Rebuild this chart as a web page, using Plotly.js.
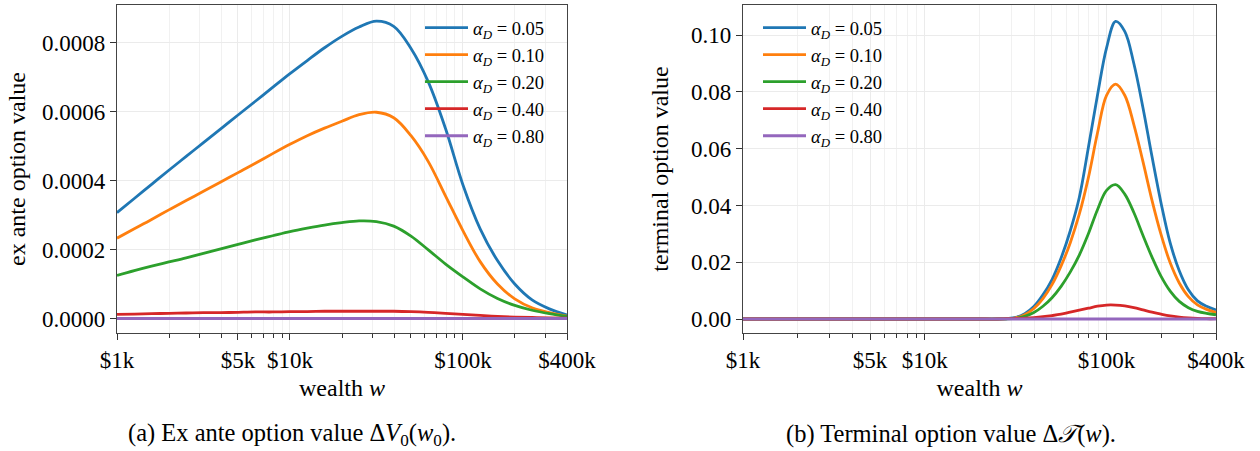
<!DOCTYPE html>
<html>
<head>
<meta charset="utf-8">
<script src="https://cdn.plot.ly/plotly-3.0.1.min.js"></script>
<style>html,body{margin:0;padding:0;background:#fff;}#chart{width:1260px;height:451px;}</style>
</head>
<body>
<div id="chart"></div>
<script>
// ---------- data ----------
const alphaLabels = ['0.05', '0.10', '0.20', '0.40', '0.80'];
const colors = ['#1f77b4', '#ff7f0e', '#2ca02c', '#d62728', '#9467bd'];

// (a) ex ante option value, wealth in dollars
const wealthLeft = [1000, 1259, 1585, 1995, 2512, 3162, 3981, 5012, 6310, 7943, 10000, 12589, 15849, 19953,
  25119, 31623, 39811, 50119, 63096, 79433, 100000, 125893, 158489, 199526, 251189, 316228, 400000];
const exAnte005 = [0.000307, 0.000348, 0.000389, 0.000430, 0.000470, 0.000510, 0.000550, 0.000590, 0.000630, 0.000670, 0.000710, 0.000748, 0.000785, 0.000818,
  0.000845, 0.000862, 0.000847, 0.000783, 0.000686, 0.000550, 0.000388, 0.000260, 0.000168, 0.000100, 0.000054, 0.000028, 0.000010];
const exAnte010 = [0.000233, 0.000260, 0.000287, 0.000315, 0.000342, 0.000369, 0.000396, 0.000423, 0.000450, 0.000478, 0.000505, 0.000530, 0.000552, 0.000572,
  0.000591, 0.000598, 0.000582, 0.000530, 0.000455, 0.000355, 0.000255, 0.000165, 0.000100, 0.000057, 0.000031, 0.000017, 0.000007];
const exAnte020 = [0.000125, 0.000139, 0.000152, 0.000164, 0.000176, 0.000189, 0.000202, 0.000215, 0.000228, 0.000240, 0.000252, 0.000262, 0.000271, 0.000278,
  0.000283, 0.000281, 0.000268, 0.000239, 0.000199, 0.000158, 0.000121, 0.000086, 0.000058, 0.000038, 0.000024, 0.000014, 0.000006];
const exAnte040 = [0.000012, 0.000013, 0.000014, 0.000015, 0.000016, 0.000017, 0.000017, 0.000018, 0.000019, 0.000019, 0.000020, 0.000020, 0.000021, 0.000021,
  0.000021, 0.000021, 0.000021, 0.000020, 0.000018, 0.000015, 0.000012, 0.000009, 0.000006, 0.000004, 0.000003, 0.000002, 0.000001];
const exAnte080 = [0, 0, 0, 0, 0, 0, 0, 0, 0, 0, 0, 0, 0, 0, 0, 0, 0, 0, 0, 0, 0, 0, 0, 0, 0, 0, 0];

// (b) terminal option value
const wealthRight = [1000, 3162, 10000, 19953, 25119, 28184, 31623, 35481, 39811, 44668, 50119, 56234, 63096, 70795, 79433,
  89125, 100000, 112202, 125893, 141254, 158489, 177828, 199526, 223872, 251189, 281838, 316228, 354813, 400000];
const term005 = [0, 0, 0, 0, 0, 0.0002, 0.0006, 0.0019, 0.0044, 0.0085, 0.0139, 0.0215, 0.0310, 0.0428, 0.0604,
  0.0788, 0.0955, 0.1048, 0.1013, 0.0900, 0.0745, 0.0572, 0.0408, 0.0268, 0.0170, 0.0103, 0.0064, 0.0045, 0.0032];
const term010 = [0, 0, 0, 0, 0, 0.0001, 0.0004, 0.0015, 0.0037, 0.0072, 0.0121, 0.0187, 0.0268, 0.0369, 0.0498,
  0.0655, 0.0788, 0.0827, 0.0788, 0.0685, 0.0555, 0.0418, 0.0297, 0.0198, 0.0127, 0.0079, 0.0050, 0.0034, 0.0023];
const term020 = [0, 0, 0, 0, 0, 0, 0.0002, 0.0009, 0.0023, 0.0045, 0.0075, 0.0115, 0.0165, 0.0225, 0.0300,
  0.0385, 0.0453, 0.0473, 0.0440, 0.0375, 0.0295, 0.0218, 0.0150, 0.0098, 0.0062, 0.0040, 0.0027, 0.0020, 0.0015];
const term040 = [0, 0, 0, 0, 0, 0.0001, 0.0002, 0.0003, 0.0005, 0.0008, 0.0012, 0.0017, 0.0024, 0.0031, 0.0038,
  0.0045, 0.0049, 0.0049, 0.0046, 0.0040, 0.0032, 0.0024, 0.0017, 0.0011, 0.0007, 0.0004, 0.0002, 0.0001, 0.0001];
const term080 = [0, 0, 0, 0, 0, 0, 0, 0, 0, 0, 0, 0, 0, 0, 0, 0, 0, 0, 0, 0, 0, 0, 0, 0, 0, 0, 0, 0, 0];

const xTickVals = [1000, 5000, 10000, 100000, 400000];
const xTickText = ['$1k', '$5k', '$10k', '$100k', '$400k'];
const xMinorVals = [2000, 3000, 4000, 6000, 7000, 8000, 9000, 20000, 30000, 40000, 50000, 60000, 70000, 80000, 90000, 200000, 300000];

// ---------- traces ----------
const leftSeries = [exAnte005, exAnte010, exAnte020, exAnte040, exAnte080];
const rightSeries = [term005, term010, term020, term040, term080];
const FONT = 'Liberation Serif';
const traces = [];
leftSeries.forEach((ys, i) => {
  traces.push({
    x: wealthLeft, y: ys, type: 'scatter', mode: 'lines',
    line: {color: colors[i], width: 2.8, shape: 'spline', smoothing: 1},
    name: '<i>α</i><sub><i>D</i></sub> = ' + alphaLabels[i],
    xaxis: 'x', yaxis: 'y', legend: 'legend'
  });
});
rightSeries.forEach((ys, i) => {
  traces.push({
    x: wealthRight, y: ys, type: 'scatter', mode: 'lines',
    line: {color: colors[i], width: 2.8, shape: 'spline', smoothing: 1},
    name: '<i>α</i><sub><i>D</i></sub> = ' + alphaLabels[i],
    xaxis: 'x2', yaxis: 'y2', legend: 'legend2'
  });
});

const gridC = '#ebebeb';
function xAxis(domain, anchor) {
  return {
    type: 'log', domain: domain, anchor: anchor,
    range: [3, Math.log10(400000)],
    tickmode: 'array', tickvals: xTickVals, ticktext: xTickText,
    ticks: 'outside', ticklen: 6, tickwidth: 1, tickcolor: '#333',
    showline: true, mirror: true, linecolor: '#444', linewidth: 1.2,
    showgrid: true, gridcolor: gridC, gridwidth: 1,
    minor: {tickvals: xMinorVals, ticks: 'outside', ticklen: 3.5, tickwidth: 1, tickcolor: '#333', showgrid: true, gridcolor: '#f1f1f1', gridwidth: 1},
    tickfont: {family: FONT, size: 23, color: '#000'},
    title: {text: 'wealth <i>w</i>', font: {family: FONT, size: 24, color: '#000'}, standoff: 7},
    zeroline: false, automargin: false
  };
}
function yAxis(domain, anchor, range, dtick, fmt, title, standoff) {
  return {
    domain: domain, anchor: anchor, range: range,
    tick0: 0, dtick: dtick, tickformat: fmt,
    ticks: 'outside', ticklen: 6, tickwidth: 1, tickcolor: '#333',
    showline: true, mirror: true, linecolor: '#444', linewidth: 1.2,
    showgrid: true, gridcolor: gridC, gridwidth: 1, zeroline: false,
    tickfont: {family: FONT, size: 23, color: '#000'},
    title: {text: title, font: {family: FONT, size: 24, color: '#000'}, standoff: standoff},
    automargin: false
  };
}

const yDom = [1 - 333 / 451, 1 - 5 / 451];
const legendBase = {xanchor: 'left', yanchor: 'top', bgcolor: 'rgba(255,255,255,0)',
  font: {family: FONT, size: 18.5, color: '#000'}, tracegroupgap: 0, itemwidth: 43};
const layout = {
  width: 1260, height: 451,
  margin: {l: 0, r: 0, t: 0, b: 0},
  paper_bgcolor: '#fff', plot_bgcolor: '#fff',
  font: {family: FONT, size: 19, color: '#000'},
  xaxis: xAxis([117 / 1260, 567 / 1260], 'y'),
  yaxis: yAxis(yDom, 'x', [-0.000042, 0.000909], 0.0002, '.4f', 'ex ante option value', 9),
  xaxis2: xAxis([743 / 1260, 1216 / 1260], 'y2'),
  yaxis2: yAxis(yDom, 'x2', [-0.00493, 0.1106], 0.02, '.2f', 'terminal option value', 15),
  legend: Object.assign({x: 420 / 1260, y: 1 - 9 / 451}, legendBase),
  legend2: Object.assign({x: 758 / 1260, y: 1 - 9 / 451}, legendBase),
  showlegend: true,
  annotations: [
    {text: '(a) Ex ante option value Δ<i>V</i><sub>0</sub>(<i>w</i><sub>0</sub>).', xref: 'paper', yref: 'paper',
      x: 292 / 1260, y: 1 - 434 / 451, xanchor: 'center', yanchor: 'middle', showarrow: false,
      font: {family: FONT, size: 24.5, color: '#000'}},
    {text: '(b) Terminal option value Δ<i>𝒯</i>(<i>w</i>).', xref: 'paper', yref: 'paper',
      x: 951 / 1260, y: 1 - 434 / 451, xanchor: 'center', yanchor: 'middle', showarrow: false,
      font: {family: FONT, size: 24.5, color: '#000'}}
  ]
};

Plotly.newPlot('chart', traces, layout, {staticPlot: true, displayModeBar: false});
</script>
</body>
</html>
